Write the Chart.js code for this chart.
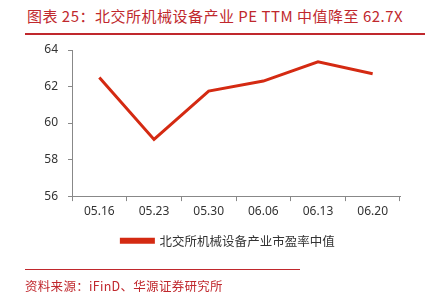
<!DOCTYPE html>
<html>
<head>
<meta charset="utf-8">
<script src="https://cdn.jsdelivr.net/npm/chart.js@4"></script>
<style>
  body { margin:0; width:431px; height:297px; background:#fff; position:relative; overflow:hidden; }
  #title { position:absolute; left:27px; top:5px; font-family:"Noto Sans CJK SC"; font-size:15px; color:#c0282d; white-space:nowrap; letter-spacing:0.5px; }
  #topline { position:absolute; left:25px; top:33px; width:400px; height:2px; background:#c0282d; }
  #botline { position:absolute; left:25px; top:269px; width:275px; height:1px; background:#c0282d; }
  #source { position:absolute; left:25px; top:276px; font-family:"Noto Sans CJK SC"; font-size:12.5px; color:#c0282d; white-space:nowrap; letter-spacing:0.3px; }
  #wrap { position:absolute; left:0; top:0; }
</style>
</head>
<body>
<div id="title">图表 25：北交所机械设备产业 PE TTM 中值降至 62.7X</div>
<div id="topline"></div>
<div id="wrap"><canvas id="myChart" width="431" height="297"></canvas></div>
<div id="botline"></div>
<div id="source">资料来源：iFinD、华源证券研究所</div>
<script>
const ctx = document.getElementById('myChart').getContext("2d");

const labels = ['05.16','05.23','05.30','06.06','06.13','06.20'];
const peMedian = [62.5, 59.1, 61.75, 62.3, 63.35, 62.7];
const seriesName = '北交所机械设备产业市盈率中值';
const yTicks = [56, 58, 60, 62, 64];

const data = {
    labels,
    datasets:[{
        label: seriesName,
        data: peMedian,
        borderColor: '#d42a12',
        backgroundColor: '#d42a12',
        borderWidth: 3,
        pointRadius: 0,
        tension: 0,
        fill: false
    }]
};

// push the legend box right so it sits centred under the plot, not the canvas
const shiftLegend = {
    id: 'shiftLegend',
    afterLayout(chart){
        if (chart.legend) chart.legend.left = 56;
    }
};

const config = {
    type: 'line',
    data,
    plugins: [shiftLegend],
    options: {
        responsive: false,
        animation: false,
        layout: { padding: { left: 0, right: 31, top: 50, bottom: 40 } },
        plugins: {
            legend: {
                position: 'bottom',
                labels: {
                    font: { family: 'Noto Sans CJK SC', size: 12.5 },
                    color: '#333',
                    boxWidth: 32,
                    boxHeight: 3,
                    padding: 13
                }
            },
            tooltip: { enabled: false }
        },
        scales: {
            x: {
                offset: true,
                grid: { offset: true, drawOnChartArea: false, drawTicks: true, tickLength: 5, color: '#888' },
                border: { color: '#888', width: 1 },
                ticks: { color: '#333', font: { family: 'Noto Sans', size: 12 }, padding: 3 }
            },
            y: {
                min: 56,
                max: 64,
                afterFit: function(scale){ scale.width = 72; },
                afterBuildTicks: function(scale){ scale.ticks = yTicks.map(v => ({ value: v })); },
                grid: { drawOnChartArea: false, drawTicks: true, tickLength: 4, color: '#888' },
                border: { color: '#888', width: 1 },
                ticks: { color: '#333', font: { family: 'Noto Sans', size: 12 }, padding: 10 }
            }
        }
    }
};

const myChart = new Chart(ctx, config);
</script>
</body>
</html>
